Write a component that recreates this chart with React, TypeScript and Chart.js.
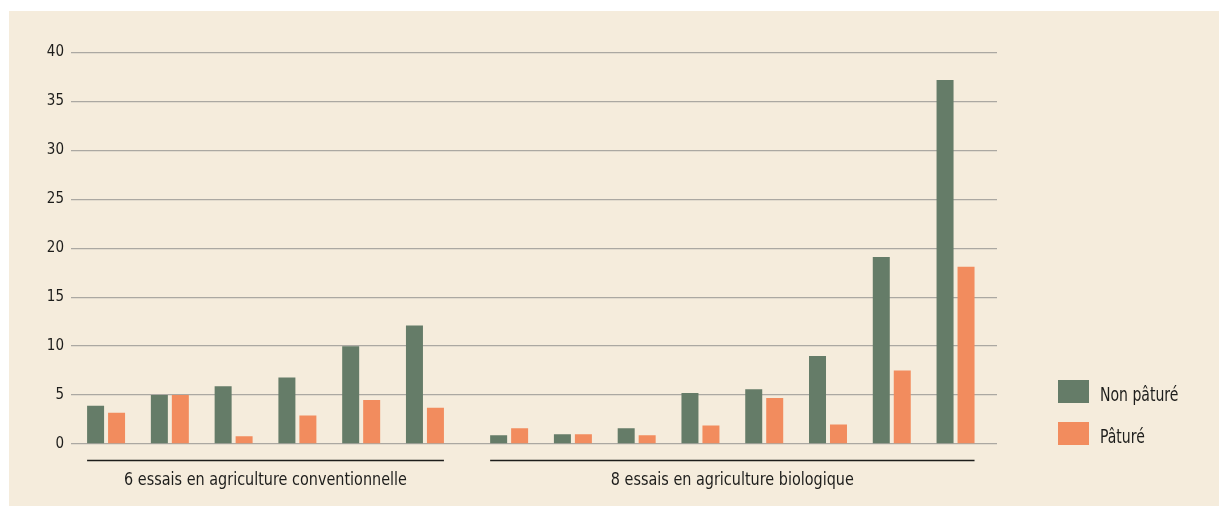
import { useEffect, useRef } from "react";
import { Chart, registerables } from "chart.js";

Chart.register(...registerables);

// ---- Data ----
const conventionalTrials = ["C1", "C2", "C3", "C4", "C5", "C6"];
const organicTrials = ["B1", "B2", "B3", "B4", "B5", "B6", "B7", "B8"];
const nonPatureConv = [3.9, 5.0, 5.9, 6.8, 10.0, 12.1];
const patureConv = [3.2, 5.0, 0.8, 2.9, 4.5, 3.7];
const nonPatureBio = [0.9, 1.0, 1.6, 5.2, 5.6, 9.0, 19.1, 37.2];
const patureBio = [1.6, 1.0, 0.9, 1.9, 4.7, 2.0, 7.5, 18.1];
const seriesLabels = ["Non pâturé", "Pâturé"];
const groupLabels = [
  "6 essais en agriculture conventionnelle",
  "8 essais en agriculture biologique",
];
const yTicks = [0, 5, 10, 15, 20, 25, 30, 35, 40];

// ---- Style ----
const GREEN = "#657c68";
const ORANGE = "#f28c5e";
const BG = "#f5ecdc";
const TEXT = "#1d1d1b";
const GRID = "#aba8a2";
const FONT = "'Liberation Sans Narrow', 'DejaVu Sans Condensed', 'Roboto', sans-serif";
const GROUP_GAP = 0.32;

const xPositions = [
  ...conventionalTrials.map((_, i) => i),
  ...organicTrials.map((_, j) => conventionalTrials.length + GROUP_GAP + j),
];
const nonPature = [...nonPatureConv, ...nonPatureBio];
const pature = [...patureConv, ...patureBio];

function condensedText(
  ctx: CanvasRenderingContext2D,
  text: string,
  x: number,
  y: number,
  sx: number,
  align: CanvasTextAlign
) {
  ctx.save();
  ctx.translate(x, y);
  ctx.scale(sx, 1);
  ctx.textAlign = align;
  ctx.textBaseline = "alphabetic";
  ctx.fillText(text, 0, 0);
  ctx.restore();
}

const groupsPlugin = {
  id: "groupsAndLegend",
  afterDatasetsDraw(chart: any) {
    const ctx = chart.ctx as CanvasRenderingContext2D;
    const area = chart.chartArea;
    const m0 = chart.getDatasetMeta(0);
    const m1 = chart.getDatasetMeta(1);
    const nC = conventionalTrials.length;
    const ranges = [
      [0, nC - 1],
      [nC, nC + organicTrials.length - 1],
    ];
    ctx.save();
    ranges.forEach(([a, b], k) => {
      const e0 = m0.data[a];
      const e1 = m1.data[b];
      const x0 = e0.x - e0.width / 2;
      const x1 = e1.x + e1.width / 2;
      const y = Math.round(area.bottom + 16) + 0.5;
      ctx.strokeStyle = TEXT;
      ctx.lineWidth = 1.6;
      ctx.beginPath();
      ctx.moveTo(x0, y);
      ctx.lineTo(x1, y);
      ctx.stroke();
      ctx.fillStyle = TEXT;
      ctx.font = `18px ${FONT}`;
      condensedText(ctx, groupLabels[k], (x0 + x1) / 2, area.bottom + 40.5, 0.89, "center");
    });
    // legend
    const colors = [GREEN, ORANGE];
    seriesLabels.forEach((lab, i) => {
      const bx = area.right + 61;
      const by = area.bottom - 64 + i * 42;
      ctx.fillStyle = colors[i];
      ctx.fillRect(bx, by, 31, 23);
      ctx.fillStyle = TEXT;
      ctx.font = `20px ${FONT}`;
      condensedText(ctx, lab, bx + 42, by + 20.5, 0.78, "left");
    });
    ctx.restore();
  },
};

export default function App() {
  const ref = useRef<HTMLCanvasElement | null>(null);
  useEffect(() => {
    if (!ref.current) return;
    const chart = new Chart(ref.current, {
      type: "bar",
      data: {
        datasets: [
          {
            label: seriesLabels[0],
            data: xPositions.map((x, i) => ({ x, y: nonPature[i] })),
            backgroundColor: GREEN,
            categoryPercentage: 0.658,
            barPercentage: 0.81,
          },
          {
            label: seriesLabels[1],
            data: xPositions.map((x, i) => ({ x, y: pature[i] })),
            backgroundColor: ORANGE,
            categoryPercentage: 0.658,
            barPercentage: 0.81,
          },
        ],
      },
      options: {
        animation: false,
        responsive: false,
        layout: { padding: { left: 0, right: 222, top: 41.5, bottom: 62 } },
        plugins: { legend: { display: false }, tooltip: { enabled: false } },
        scales: {
          x: {
            type: "linear",
            min: -0.55,
            max: 13.97,
            display: false,
            afterBuildTicks: (axis: any) => {
              axis.ticks = [];
            },
          },
          y: {
            min: 0,
            max: 40,
            afterFit: (axis: any) => {
              axis.width = 62;
            },
            afterBuildTicks: (axis: any) => {
              axis.ticks = yTicks.map((v) => ({ value: v }));
            },
            border: { display: false },
            grid: { color: GRID, lineWidth: 1.3, drawTicks: false },
            ticks: {
              padding: 7,
              color: TEXT,
              font: { family: FONT, size: 15 },
            },
          },
        },
      },
      plugins: [groupsPlugin],
    } as any);
    return () => chart.destroy();
  }, []);
  return (
    <div
      style={{
        position: "absolute",
        left: 9,
        top: 11,
        width: 1210,
        height: 495,
        background: BG,
      }}
    >
      <canvas ref={ref} width={1210} height={495} style={{ width: 1210, height: 495, display: "block" }} />
    </div>
  );
}
